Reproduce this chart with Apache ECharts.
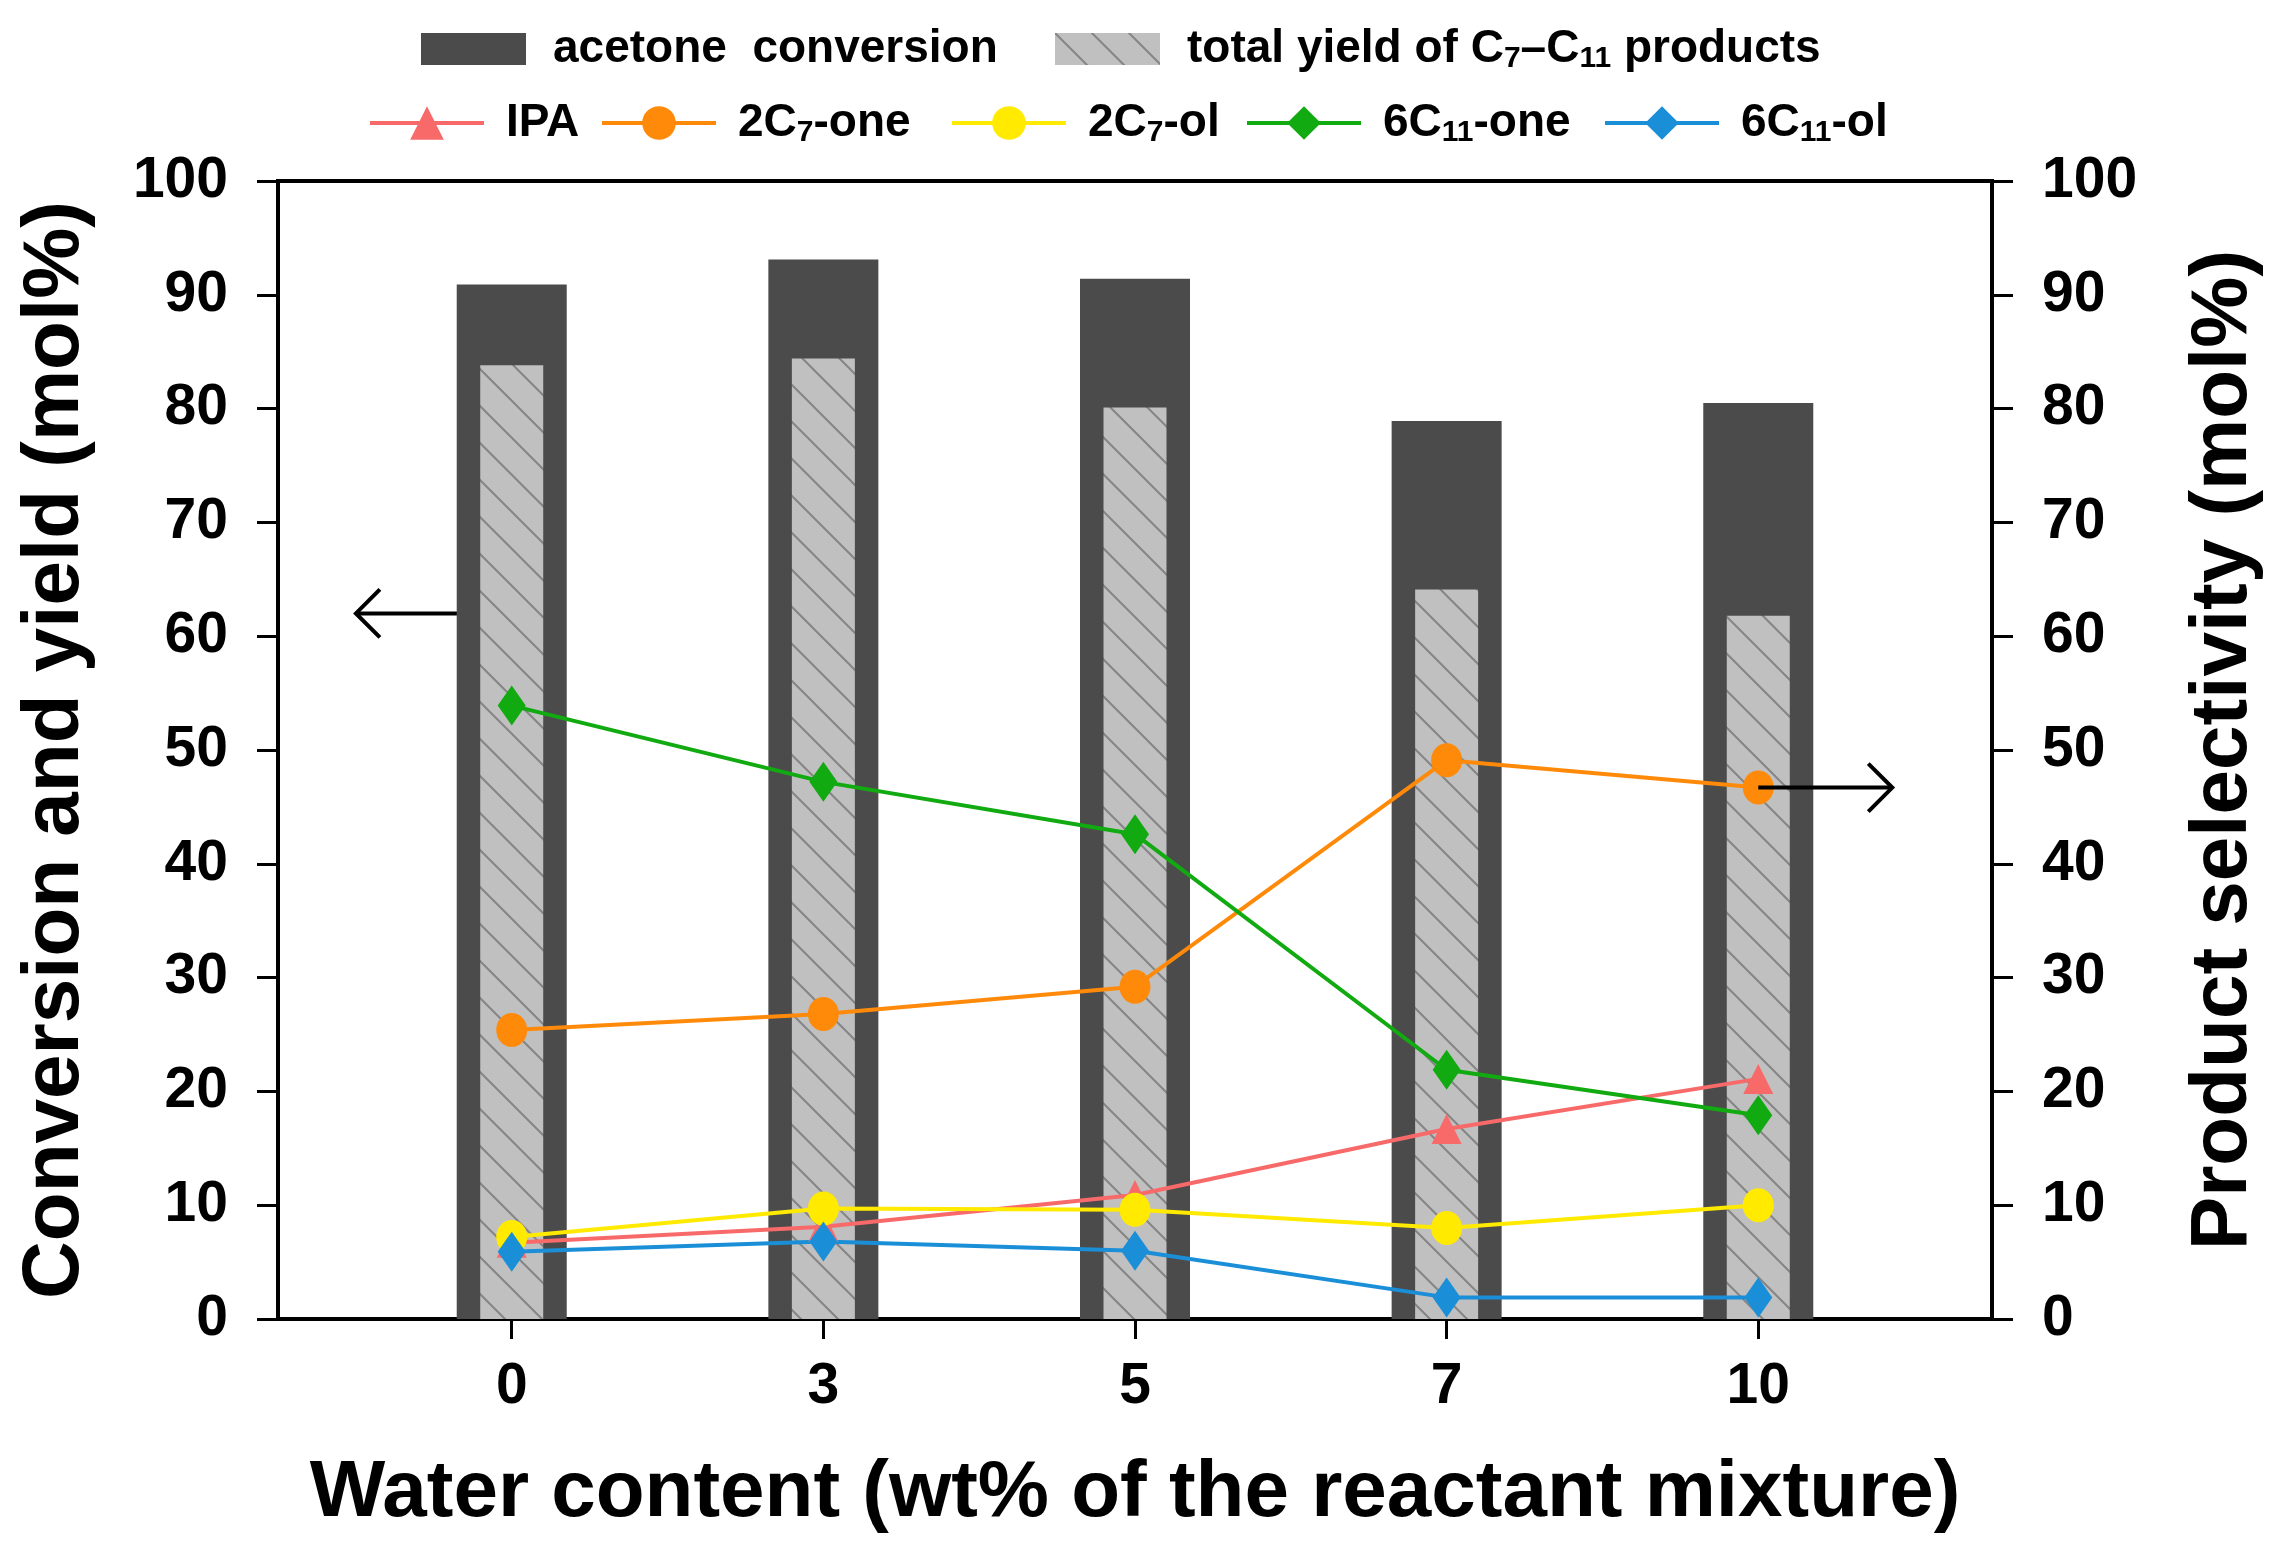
<!DOCTYPE html>
<html><head><meta charset="utf-8">
<script src="https://cdn.jsdelivr.net/npm/echarts@6/dist/echarts.min.js"></script>
<style>html,body{margin:0;padding:0;background:#fff}#c{width:2292px;height:1553px}</style>
</head><body><div id="c"></div>
<script>
// ---------- data ----------
const categories = ['0', '3', '5', '7', '10'];           // water content, wt%
const conversion = [90.9, 93.1, 91.4, 78.9, 80.5];       // acetone conversion
const totalYield = [83.8, 84.4, 80.1, 64.1, 61.8];       // total yield of C7–C11 products
const selIPA = [6.7, 8.1, 10.9, 16.7, 21.1];
const sel2C7one = [25.4, 26.8, 29.2, 49.1, 46.7];
const sel2C7ol = [7.2, 9.7, 9.6, 8.0, 10.0];
const sel6C11one = [53.9, 47.2, 42.6, 21.9, 17.9];
const sel6C11ol = [5.9, 6.8, 6.0, 1.9, 1.9];
const yTickValues = [0, 10, 20, 30, 40, 50, 60, 70, 80, 90, 100];
// arrow annotations (data coords: x = category index, y = value)
const arrowLeft = { y: 62, x0: -0.176, x1: -0.5 };
const arrowRight = { y: 46.7, x0: 4, x1: 4.43 };

// ---------- helpers ----------
const FONT = "'Liberation Sans', Arial, sans-serif";
const idx = categories.map((c, i) => i);
const pts = arr => arr.map((v, i) => [idx[i], v]);

// hatch pattern
const P = 37;
const cv = document.createElement('canvas'); cv.width = P; cv.height = P;
const g = cv.getContext('2d');
g.fillStyle = '#c0c0c0'; g.fillRect(0, 0, P, P);
g.strokeStyle = '#858585'; g.lineWidth = 2;
g.beginPath();
g.moveTo(-3, -3); g.lineTo(P + 3, P + 3);
g.moveTo(P - 4, -4); g.lineTo(P + 4, 4);
g.moveTo(-4, P - 4); g.lineTo(4, P + 4);
g.stroke();
const hatch = { image: cv, repeat: 'repeat' };

const rich = {
  n: { fontSize: 46, fontWeight: 'bold', fontFamily: FONT, color: '#000', lineHeight: 50 },
  s: { fontSize: 30, fontWeight: 'bold', fontFamily: FONT, color: '#000', lineHeight: 34, verticalAlign: 'bottom' }
};
const labelMap = {
  'acetone  conversion': '{n|acetone  conversion}',
  'total yield': '{n|total yield of C}{s|7}{n|–C}{s|11}{n| products}',
  'IPA': '{n|IPA}',
  '2C7-one': '{n|2C}{s|7}{n|-one}',
  '2C7-ol': '{n|2C}{s|7}{n|-ol}',
  '6C11-one': '{n|6C}{s|11}{n|-one}',
  '6C11-ol': '{n|6C}{s|11}{n|-ol}'
};
function leg(name, left, top, w, h, pad, icon) {
  const o = {
    data: [name], left: left, top: top, padding: 0, itemWidth: w, itemHeight: h,
    formatter: n => labelMap[n],
    textStyle: { fontSize: 46, fontWeight: 'bold', fontFamily: FONT, color: '#000', padding: [0, 0, 0, pad], rich: rich },
    selectedMode: false
  };
  if (icon) o.icon = icon; else o.lineStyle = { width: 4 };
  return o;
}

const lineSeries = (name, data, color, symbol, size) => ({
  name, type: 'line', data: pts(data), xAxisIndex: 0, yAxisIndex: 1,
  symbol, symbolSize: size, showSymbol: true,
  lineStyle: { color, width: 4 }, itemStyle: { color },
  z: 5
});

const axisStyle = { onZero: false, lineStyle: { color: '#000', width: 4 } };
const labelStyle = { fontSize: 57, fontWeight: 'bold', fontFamily: FONT, color: '#000' };

const chart = echarts.init(document.getElementById('c'), null, { renderer: 'canvas' });
chart.setOption({
  animation: false,
  backgroundColor: '#fff',
  grid: { left: 278, right: 300, top: 181, bottom: 234, show: true, borderColor: '#000', borderWidth: 4, backgroundColor: 'transparent' },
  legend: [
    leg('acetone  conversion', 421, 26, 105, 32, 22, 'rect'),
    leg('total yield', 1055, 26, 105, 32, 22, 'rect'),
    leg('IPA', 368, 100, 114, 42, 17),
    leg('2C7-one', 600, 100, 114, 42, 17),
    leg('2C7-ol', 950, 100, 114, 42, 17),
    leg('6C11-one', 1245, 100, 114, 42, 17),
    leg('6C11-ol', 1603, 100, 114, 42, 17)
  ],
  xAxis: [
    {
      type: 'value', min: -0.75, max: 4.75, position: 'bottom',
      axisLine: axisStyle,
      axisTick: { show: true, length: 20, lineStyle: { color: '#000', width: 3 }, customValues: idx },
      axisLabel: Object.assign({ margin: 40, customValues: idx, formatter: v => categories[Math.round(v)] }, labelStyle),
      splitLine: { show: false },
      name: 'Water content (wt% of the reactant mixture)', nameLocation: 'middle', nameGap: 135,
      nameTextStyle: { fontSize: 80, fontWeight: 'bold', fontFamily: FONT, color: '#000' }
    },
    { type: 'value', min: -0.75, max: 4.75, show: false }
  ],
  yAxis: [
    {
      type: 'value', min: 0, max: 100, interval: 10, position: 'left',
      axisLine: Object.assign({ show: true }, axisStyle),
      axisTick: { show: true, length: 21, lineStyle: { color: '#000', width: 3 } },
      axisLabel: Object.assign({ margin: 50 }, labelStyle),
      splitLine: { show: false },
      name: 'Conversion and yield (mol%)', nameLocation: 'middle', nameGap: 182, nameRotate: 90,
      nameTextStyle: { fontSize: 80, fontWeight: 'bold', fontFamily: FONT, color: '#000' }
    },
    {
      type: 'value', min: 0, max: 100, interval: 10, position: 'right',
      axisLine: Object.assign({ show: true }, axisStyle),
      axisTick: { show: true, length: 21, lineStyle: { color: '#000', width: 3 } },
      axisLabel: Object.assign({ margin: 50 }, labelStyle),
      splitLine: { show: false },
      name: 'Product selectivity (mol%)', nameLocation: 'middle', nameGap: 192, nameRotate: 90,
      nameTextStyle: { fontSize: 80, fontWeight: 'bold', fontFamily: FONT, color: '#000' }
    }
  ],
  series: [
    { name: 'acetone  conversion', type: 'bar', data: pts(conversion), xAxisIndex: 0, yAxisIndex: 0,
      barWidth: 110, itemStyle: { color: '#4b4b4b' }, z: 2 },
    { name: 'total yield', type: 'bar', data: pts(totalYield), xAxisIndex: 1, yAxisIndex: 0,
      barWidth: 63, itemStyle: { color: hatch }, z: 3 },
    lineSeries('IPA', selIPA, '#f86a6a', 'triangle', [30, 30]),
    lineSeries('2C7-one', sel2C7one, '#ff8a0a', 'circle', [31, 34]),
    lineSeries('2C7-ol', sel2C7ol, '#ffea00', 'circle', [31, 34]),
    lineSeries('6C11-one', sel6C11one, '#11aa11', 'diamond', [28, 40]),
    lineSeries('6C11-ol', sel6C11ol, '#1a8fd8', 'diamond', [28, 40])
  ]
});

function arrow(a, dir) {
  const p0 = chart.convertToPixel({ xAxisIndex: 0, yAxisIndex: 0 }, [a.x0, a.y]);
  const p1 = chart.convertToPixel({ xAxisIndex: 0, yAxisIndex: 0 }, [a.x1, a.y]);
  const d = dir * 24, h = 24;
  return [
    { type: 'line', z: 100, shape: { x1: p0[0], y1: p0[1], x2: p1[0], y2: p1[1] }, style: { stroke: '#000', lineWidth: 4 } },
    { type: 'polyline', z: 100, shape: { points: [[p1[0] - d, p1[1] - h], [p1[0], p1[1]], [p1[0] - d, p1[1] + h]] },
      style: { stroke: '#000', lineWidth: 4, fill: null } }
  ];
}
chart.setOption({ graphic: [].concat(arrow(arrowLeft, -1), arrow(arrowRight, 1)) });
</script>
</body></html>
